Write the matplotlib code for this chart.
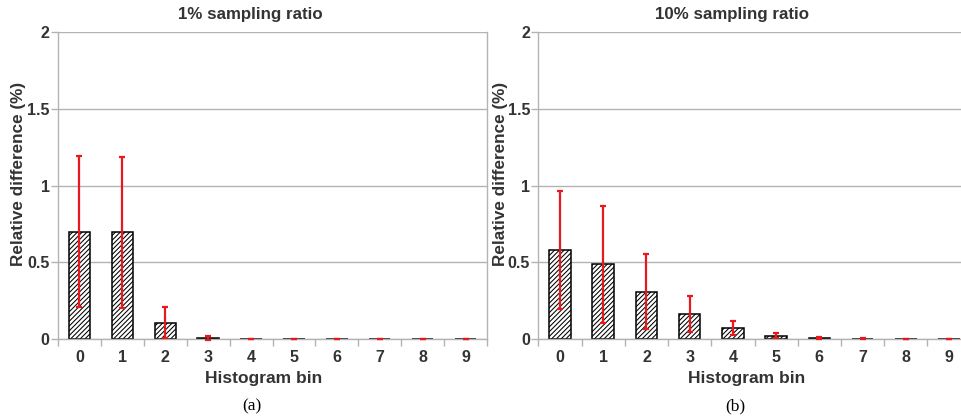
import matplotlib
matplotlib.use("Agg")
import matplotlib.pyplot as plt
import numpy as np

bins = [0, 1, 2, 3, 4, 5, 6, 7, 8, 9]
bin_labels = ["0", "1", "2", "3", "4", "5", "6", "7", "8", "9"]

mean_1pct = [0.70, 0.695, 0.106, 0.007, 0.001, 0.001, 0.001, 0.001, 0.001, 0.001]
err_1pct = [0.49, 0.49, 0.10, 0.015, 0.001, 0.001, 0.001, 0.001, 0.001, 0.001]

mean_10pct = [0.58, 0.487, 0.308, 0.163, 0.070, 0.022, 0.007, 0.002, 0.0, 0.0]
err_10pct = [0.385, 0.38, 0.245, 0.116, 0.046, 0.015, 0.004, 0.002, 0.001, 0.001]

yticks = [0, 0.5, 1, 1.5, 2]
ytick_labels = ["0", "0.5", "1", "1.5", "2"]

titles = ["1% sampling ratio", "10% sampling ratio"]
captions = ["(a)", "(b)"]

plt.rcParams['font.family'] = ['Liberation Sans', 'DejaVu Sans']
plt.rcParams['hatch.linewidth'] = 0.75

TXT = "#333333"
GRID = "#b3b3b3"
RED = "#e8191d"

W, H = 961, 420
fig = plt.figure(figsize=(W / 100, H / 100), dpi=100)

# (axes left px, axes right px, data, title x, xlabel x, caption x, ylabel x)
panels = [
    (58, 487, mean_1pct, err_1pct, 250, 264, 252, 18.5),
    (538.4, 970.6, mean_10pct, err_10pct, 732, 747, 735, 501),
]
y0_px, y2_px = 339, 32

for i, (xl, xr, mean, err, tx, lx, cx, yx) in enumerate(panels):
    ax = fig.add_axes([xl / W, (H - y0_px) / H, (xr - xl) / W, (y0_px - y2_px) / H])
    ax.set_xlim(-0.5, 9.5)
    ax.set_ylim(0, 2)
    ax.set_axisbelow(True)
    ax.yaxis.grid(True, color=GRID, linewidth=1.0)
    ax.bar(bins, mean, width=0.5, color="white", edgecolor="black",
           linewidth=1.1, hatch="///////", zorder=2)
    ax.errorbar(bins, mean, yerr=err, fmt="none", ecolor=RED, elinewidth=1.6,
                capsize=2.5, capthick=1.6, zorder=3, clip_on=False)
    ax.spines["top"].set_visible(False)
    for s in ["left", "bottom", "right"]:
        ax.spines[s].set_color(GRID)
        ax.spines[s].set_linewidth(1.0)
    ax.set_xticks(bins)
    ax.set_xticklabels(bin_labels, fontsize=11.5, fontweight="bold", color=TXT)
    ax.set_xticks(np.arange(-0.5, 10.0, 1.0), minor=True)
    ax.tick_params(axis="x", which="major", length=0, pad=8)
    ax.tick_params(axis="x", which="minor", length=5, color=GRID, width=1.0)
    ax.set_yticks(yticks)
    ax.set_yticklabels(ytick_labels, fontsize=11.5, fontweight="bold", color=TXT)
    ax.tick_params(axis="y", length=5, color=GRID, width=1.0, pad=1)

    fig.text(tx / W, (H - 14) / H, titles[i], ha="center", va="center",
             fontsize=12.2, fontweight="bold", color=TXT)
    fig.text(lx / W, (H - 378) / H, "Histogram bin", ha="center", va="center",
             fontsize=12.5, fontweight="bold", color=TXT)
    fig.text(yx / W, (H - 174) / H, "Relative difference (%)", ha="center", va="center",
             rotation=90, fontsize=12.3, fontweight="bold", color=TXT)
    fig.text(cx / W, (H - 406) / H, captions[i], ha="center", va="center",
             fontsize=12.5, family=["Liberation Serif", "DejaVu Serif"], color="black")

fig.savefig("out.png", dpi=100)
